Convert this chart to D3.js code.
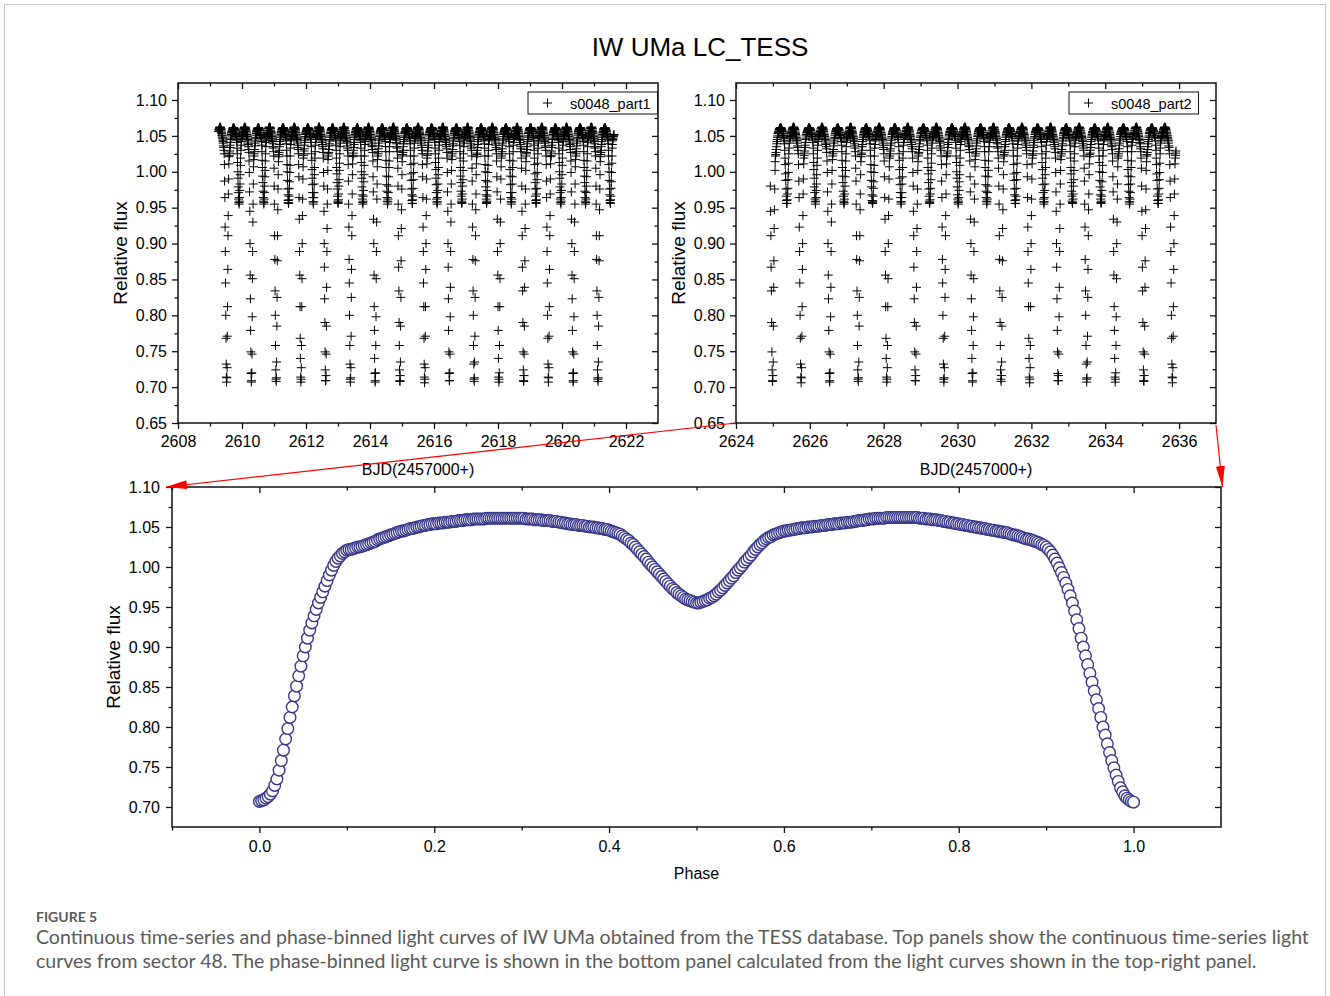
<!DOCTYPE html>
<html>
<head>
<meta charset="utf-8">
<script src="https://cdn.jsdelivr.net/npm/d3@7"></script>
<style>
  body { margin: 0; background: #fff; }
</style>
</head>
<body>
<svg id="chart" width="1330" height="996"></svg>
<script>
// ---- data ----
// TESS sector 48 segments (BJD - 2457000), 10 min cadence
const part1Range = [2609.27, 2621.63];
const part2Range = [2624.93, 2635.92];
const cadenceDays = 10 / 1440;
// ephemeris of primary minimum, read from the eclipse columns
const epochT0 = 2609.52;
const period = 0.7735;

// phase-binned light curve (bottom panel), bins of 0.0025 in phase, 0 -> 1
const binWidth = 0.0025;
const binnedFlux = [
  0.707,0.708,0.709,0.711,0.713,0.716,0.720,0.727,0.735,0.746,0.758,0.771,0.785,0.798,0.812,0.825,0.839,0.851,0.864,0.876,
  0.889,0.900,0.911,0.921,0.930,0.939,0.947,0.955,0.962,0.969,0.976,0.983,0.990,0.996,1.002,1.007,1.011,1.014,1.017,1.019,
  1.021,1.022,1.022,1.023,1.024,1.025,1.025,1.026,1.027,1.028,1.029,1.030,1.031,1.032,1.034,1.035,1.036,1.037,1.038,1.039,
  1.040,1.041,1.042,1.043,1.044,1.045,1.045,1.046,1.047,1.048,1.048,1.049,1.050,1.050,1.051,1.052,1.052,1.053,1.053,1.054,
  1.054,1.054,1.055,1.055,1.055,1.056,1.056,1.056,1.057,1.057,1.057,1.058,1.058,1.058,1.059,1.059,1.059,1.059,1.060,1.060,
  1.060,1.060,1.060,1.060,1.061,1.061,1.061,1.061,1.061,1.061,1.061,1.061,1.061,1.061,1.061,1.061,1.061,1.061,1.061,1.061,
  1.061,1.061,1.060,1.060,1.060,1.060,1.059,1.059,1.059,1.059,1.058,1.058,1.058,1.058,1.057,1.057,1.057,1.056,1.056,1.055,
  1.055,1.054,1.054,1.053,1.053,1.053,1.052,1.052,1.052,1.051,1.051,1.050,1.050,1.050,1.049,1.049,1.048,1.048,1.047,1.047,
  1.046,1.045,1.044,1.043,1.042,1.041,1.039,1.037,1.035,1.033,1.030,1.028,1.025,1.022,1.019,1.016,1.013,1.010,1.006,1.003,
  1.000,0.997,0.994,0.991,0.988,0.985,0.982,0.979,0.976,0.973,0.971,0.968,0.966,0.964,0.962,0.960,0.959,0.958,0.957,0.956,
  0.955,0.955,0.956,0.957,0.958,0.959,0.961,0.962,0.964,0.966,0.969,0.971,0.974,0.977,0.980,0.983,0.986,0.989,0.993,0.996,
  0.999,1.002,1.006,1.009,1.012,1.015,1.019,1.022,1.025,1.028,1.030,1.033,1.035,1.037,1.038,1.040,1.041,1.042,1.043,1.044,
  1.045,1.045,1.046,1.046,1.047,1.047,1.048,1.048,1.049,1.049,1.049,1.050,1.050,1.050,1.051,1.051,1.051,1.052,1.052,1.052,
  1.053,1.053,1.053,1.054,1.054,1.054,1.055,1.055,1.055,1.056,1.056,1.056,1.057,1.057,1.058,1.058,1.058,1.059,1.059,1.060,
  1.060,1.060,1.061,1.061,1.061,1.061,1.061,1.062,1.062,1.062,1.062,1.062,1.062,1.062,1.062,1.062,1.062,1.062,1.062,1.062,
  1.062,1.062,1.061,1.061,1.061,1.060,1.060,1.060,1.059,1.059,1.059,1.058,1.058,1.057,1.057,1.056,1.056,1.055,1.055,1.054,
  1.054,1.053,1.053,1.052,1.052,1.051,1.051,1.050,1.050,1.049,1.049,1.048,1.048,1.047,1.047,1.046,1.046,1.045,1.045,1.044,
  1.044,1.043,1.043,1.042,1.041,1.040,1.040,1.039,1.038,1.037,1.036,1.035,1.035,1.034,1.033,1.032,1.031,1.030,1.028,1.027,
  1.025,1.022,1.019,1.015,1.010,1.005,0.999,0.993,0.987,0.980,0.972,0.964,0.955,0.945,0.934,0.923,0.911,0.900,0.889,0.878,
  0.867,0.856,0.845,0.834,0.823,0.812,0.800,0.790,0.779,0.768,0.758,0.749,0.740,0.732,0.724,0.719,0.714,0.711,0.709,0.707,
  0.706
];

// tick labels
const bjdTicks1 = [2608, 2610, 2612, 2614, 2616, 2618, 2620, 2622];
const bjdMinor1 = [2609, 2611, 2613, 2615, 2617, 2619, 2621];
const bjdTicks2 = [2624, 2626, 2628, 2630, 2632, 2634, 2636];
const bjdMinor2 = [2625, 2627, 2629, 2631, 2633, 2635];
const fluxTicksTop = [0.65, 0.70, 0.75, 0.80, 0.85, 0.90, 0.95, 1.00, 1.05, 1.10];
const fluxMinorTop = [0.675, 0.725, 0.775, 0.825, 0.875, 0.925, 0.975, 1.025, 1.075];
const phaseTicks = [0.0, 0.2, 0.4, 0.6, 0.8, 1.0];
const phaseMinor = [-0.1, 0.1, 0.3, 0.5, 0.7, 0.9];
const fluxTicksBottom = [0.70, 0.75, 0.80, 0.85, 0.90, 0.95, 1.00, 1.05, 1.10];
const fluxMinorBottom = [0.725, 0.775, 0.825, 0.875, 0.925, 0.975, 1.025, 1.075];

const FONT = "'Liberation Sans', Arial, Helvetica, sans-serif";
const svg = d3.select("#chart");

// page frame
svg.append("rect")
  .attr("x", 4.5).attr("y", 4.5)
  .attr("width", 1321).attr("height", 1010)
  .attr("fill", "none").attr("stroke", "#c8c8c8");

svg.append("text")
  .attr("x", 700).attr("y", 56)
  .attr("text-anchor", "middle")
  .attr("font-family", FONT).attr("font-size", 26)
  .text("IW UMa LC_TESS");

// flux of the binned curve at a time (nearest bin)
function fluxAt(t) {
  let ph = ((t - epochT0) / period) % 1;
  if (ph < 0) ph += 1;
  return binnedFlux[Math.round(ph / binWidth)];
}

function styleAxis(sel) {
  sel.attr("font-size", 16).attr("font-family", FONT).attr("color", "#111");
  sel.select(".domain").remove();
  sel.selectAll(".tick line").attr("stroke-width", 1.3);
  sel.selectAll(".tick text").attr("fill", "#000");
}

function drawAxes(x, y, cfg) {
  const g = svg.append("g");
  const [x0, x1] = x.range();
  const [yb, yt] = y.range();

  g.append("g").attr("transform", `translate(0,${yb})`)
    .call(d3.axisBottom(x).tickValues(cfg.xMajor).tickSize(6).tickPadding(cfg.xPad).tickFormat(cfg.xFmt))
    .call(styleAxis);
  g.append("g").attr("transform", `translate(0,${yb})`)
    .call(d3.axisBottom(x).tickValues(cfg.xMinor).tickSize(3.5).tickFormat(""))
    .call(styleAxis);
  g.append("g").attr("transform", `translate(0,${yt})`)
    .call(d3.axisTop(x).tickValues(cfg.xMajor).tickSize(-6).tickFormat(""))
    .call(styleAxis);
  g.append("g").attr("transform", `translate(0,${yt})`)
    .call(d3.axisTop(x).tickValues(cfg.xMinor).tickSize(-3.5).tickFormat(""))
    .call(styleAxis);

  g.append("g").attr("transform", `translate(${x0},0)`)
    .call(d3.axisLeft(y).tickValues(cfg.yMajor).tickSize(6).tickPadding(cfg.yPad).tickFormat(d3.format(".2f")))
    .call(styleAxis);
  g.append("g").attr("transform", `translate(${x0},0)`)
    .call(d3.axisLeft(y).tickValues(cfg.yMinor).tickSize(3.5).tickFormat(""))
    .call(styleAxis);
  g.append("g").attr("transform", `translate(${x1},0)`)
    .call(d3.axisRight(y).tickValues(cfg.yMajor).tickSize(-6).tickFormat(""))
    .call(styleAxis);
  g.append("g").attr("transform", `translate(${x1},0)`)
    .call(d3.axisRight(y).tickValues(cfg.yMinor).tickSize(-3.5).tickFormat(""))
    .call(styleAxis);

  g.append("rect")
    .attr("x", x0).attr("y", yt)
    .attr("width", x1 - x0).attr("height", yb - yt)
    .attr("fill", "none").attr("stroke", "#111").attr("stroke-width", 1.5);

  // axis titles
  g.append("text")
    .attr("x", (x0 + x1) / 2).attr("y", cfg.xTitleY)
    .attr("text-anchor", "middle")
    .attr("font-family", FONT).attr("font-size", 16)
    .text(cfg.xTitle);
  g.append("text")
    .attr("transform", `translate(${cfg.yTitleX},${(yb + yt) / 2}) rotate(-90)`)
    .attr("text-anchor", "middle")
    .attr("font-family", FONT).attr("font-size", 19)
    .text("Relative flux");
}

function crossPath(x, y, range) {
  const n = Math.floor((range[1] - range[0]) / cadenceDays);
  let p = "";
  for (let i = 0; i <= n; i++) {
    const t = range[0] + i * cadenceDays;
    const px = x(t), py = y(fluxAt(t));
    p += `M${(px - 4.5).toFixed(1)},${py.toFixed(1)}h9M${px.toFixed(1)},${(py - 4.5).toFixed(1)}v9`;
  }
  return p;
}

function drawTopPanel(x, range, ticks, minor, name, legendRight) {
  const y = d3.scaleLinear().domain([0.65, 1.1237]).range([423, 83]);
  svg.append("path")
    .attr("d", crossPath(x, y, range))
    .attr("fill", "none").attr("stroke", "#000").attr("stroke-width", 1);

  drawAxes(x, y, {
    xMajor: ticks, xMinor: minor, xFmt: d3.format("d"), xPad: 7,
    yMajor: fluxTicksTop, yMinor: fluxMinorTop, yPad: 5,
    xTitle: "BJD(2457000+)", xTitleY: 475, yTitleX: x.range()[0] - 51
  });

  // legend
  const lg = svg.append("g").attr("transform", `translate(${legendRight - 129.5},92)`);
  lg.append("rect").attr("width", 129.5).attr("height", 22)
    .attr("fill", "#fff").attr("stroke", "#111").attr("stroke-width", 1);
  lg.append("path").attr("d", "M15,11h9M19.5,6.5v9")
    .attr("stroke", "#000").attr("stroke-width", 1);
  lg.append("text").attr("x", 42).attr("y", 16.5)
    .attr("font-family", FONT).attr("font-size", 14.5)
    .text(name);
  return y;
}

const xTop1 = d3.scaleLinear().domain([2608, 2623]).range([178, 658]);
const xTop2 = d3.scaleLinear().domain([2624, 2637]).range([736, 1216]);
const yTop1 = drawTopPanel(xTop1, part1Range, bjdTicks1, bjdMinor1, "s0048_part1", 657.5);
const yTop2 = drawTopPanel(xTop2, part2Range, bjdTicks2, bjdMinor2, "s0048_part2", 1198.5);

// bottom panel: phase-binned curve
const xB = d3.scaleLinear().domain([-0.1, 1.1]).range([172, 1221]);
const yB = d3.scaleLinear().domain([0.675, 1.10]).range([827, 487]);
const binned = binnedFlux.map((f, i) => ({ phase: i * binWidth, flux: f }));

svg.append("g").selectAll("circle")
  .data(binned)
  .join("circle")
  .attr("cx", d => xB(d.phase))
  .attr("cy", d => yB(d.flux))
  .attr("r", 5.8)
  .attr("fill", "#fff")
  .attr("stroke", "#38388a")
  .attr("stroke-width", 1.4);

drawAxes(xB, yB, {
  xMajor: phaseTicks, xMinor: phaseMinor, xFmt: d3.format(".1f"), xPad: 8,
  yMajor: fluxTicksBottom, yMinor: fluxMinorBottom, yPad: 6,
  xTitle: "Phase", xTitleY: 879, yTitleX: 120
});

// red arrows from the top-right panel down to the phased panel
const defs = svg.append("defs");
defs.append("marker")
  .attr("id", "redhead")
  .attr("markerUnits", "userSpaceOnUse")
  .attr("markerWidth", 22).attr("markerHeight", 10)
  .attr("refX", 21).attr("refY", 4.5)
  .attr("orient", "auto")
  .append("path").attr("d", "M0,0L21,4.5L0,9Z").attr("fill", "#ff0000");

const arrows = [
  [[xTop2(2624), yTop2(0.65)], [xB(-0.1) - 6, yB(1.10)]],
  [[xTop2(2637), yTop2(0.65) + 2], [xB(1.1) + 1.5, yB(1.10)]]
];
svg.selectAll(".arrow")
  .data(arrows)
  .join("line")
  .attr("class", "arrow")
  .attr("x1", d => d[0][0]).attr("y1", d => d[0][1])
  .attr("x2", d => d[1][0]).attr("y2", d => d[1][1])
  .attr("stroke", "#ff0000").attr("stroke-width", 1.2)
  .attr("marker-end", "url(#redhead)");

// caption
const CAP = "Lato, 'Open Sans', sans-serif";
svg.append("text")
  .attr("x", 36).attr("y", 922)
  .attr("font-family", CAP).attr("font-size", 14).attr("font-weight", 700)
  .attr("fill", "#5a5a5a")
  .text("FIGURE 5");
const cap1 = svg.append("text")
  .attr("x", 36).attr("y", 944)
  .attr("font-family", CAP).attr("font-size", 18)
  .attr("fill", "#5a5a5a")
  .text("Continuous time-series and phase-binned light curves of IW UMa obtained from the TESS database. Top panels show the continuous time-series light");
const capSize = 18 * 1274 / cap1.node().getComputedTextLength();
cap1.attr("font-size", capSize);
svg.append("text")
  .attr("x", 36).attr("y", 968)
  .attr("font-family", CAP).attr("font-size", capSize)
  .attr("fill", "#5a5a5a")
  .text("curves from sector 48. The phase-binned light curve is shown in the bottom panel calculated from the light curves shown in the top-right panel.");
</script>
</body>
</html>
